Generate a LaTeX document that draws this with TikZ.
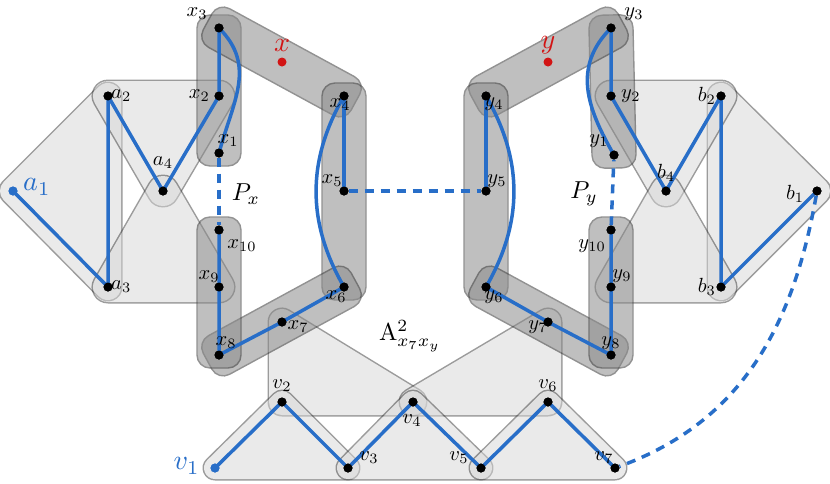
\documentclass[tikz,border=0pt]{standalone}
\usepackage{graphicx}
\usetikzlibrary{calc}
\definecolor{hb}{gray}{0.22}
\definecolor{dk}{gray}{0.54}
\definecolor{lt}{gray}{0.84}
\definecolor{eb}{RGB}{40,110,200}
\definecolor{rd}{RGB}{210,20,20}
\newcommand\band[2]{%
 \begin{scope}[transparency group,opacity=0.55]
 \draw[hb, fill=dk, line width=1.4pt] let \p1=($(#2)-(#1)$), \n1={atan2(\y1,\x1)}, \n2={veclen(\x1,\y1)} in [shift={(#1)}, rotate=\n1, rounded corners=13pt] (-13pt,-22pt) -- (\n2+13pt,-22pt) -- (\n2+13pt,22pt) -- (-13pt,22pt) -- cycle;
 \end{scope}}
\newcommand\tri[4]{%
 \begin{scope}[transparency group,opacity=0.5]
 \draw[hb, fill=hb, line width=#4+3pt, line join=round] (#1) -- (#2) -- (#3) -- cycle;
 \draw[lt, fill=lt, line width=#4, line join=round] (#1) -- (#2) -- (#3) -- cycle;
 \end{scope}}
\newcommand\sm[1]{\scalebox{2.05}{$#1$}}
\newcommand\bg[1]{\scalebox{2.8}{$#1$}}
\newcommand\md[1]{\scalebox{2.45}{$#1$}}
\tikzset{dot/.style={circle,fill=black,inner sep=0pt,minimum size=9pt},
 bdot/.style={dot,fill=eb},
 rdot/.style={dot,fill=rd},
 lb/.style={inner sep=0pt},
 blb/.style={text=eb,inner sep=0pt},
 rlb/.style={text=rd,inner sep=0pt},
 ed/.style={eb,line width=3.5pt},
 edd/.style={ed,dash pattern=on 9pt off 7pt}}
\begin{document}
\begin{tikzpicture}[x=1pt,y=-1pt]
\useasboundingbox (0,0) rectangle (830,483);
\foreach \n/\p in {a1/{13,191},a2/{108,96},a3/{108,287},a4/{163,191},
 x3/{219,28},x2/{219,96},x1/{219,153},x10/{219,230},x9/{219,287},x8/{219,355},x7/{282,322},x6/{344,287},x5/{344,191},x4/{344,96},xx/{282,62},
 y3/{611,28},y2/{611,96},y1/{614,155},y10/{611,230},y9/{611,287},y8/{611,355},y7/{548,322},y6/{486,287},y5/{486,191},y4/{486,96},yy/{548,62},
 b2/{721,96},b4/{666,191},b3/{721,287},b1/{817,191},
 v1/{215,468},v2/{282,402},v3/{348,468},v4/{413,402},v5/{481,468},v6/{548,402},v7/{615,468}}
 {\coordinate (\n) at (\p);}
% light hyperedges
\tri{a1}{a2}{a3}{26pt}
\tri{a2}{x2}{a4}{30pt}
\tri{a3}{x9}{a4}{30pt}
\tri{b1}{b2}{b3}{26pt}
\tri{y2}{b2}{b4}{30pt}
\tri{y9}{b3}{b4}{30pt}
\tri{x7}{v2}{v4}{26pt}
\tri{y7}{v6}{v4}{26pt}
\tri{v1}{v2}{v3}{22pt}
\tri{v3}{v4}{v5}{22pt}
\tri{v5}{v6}{v7}{22pt}
% dark hyperedges
\band{x3}{x1}\band{x3}{x4}\band{x4}{x6}\band{x6}{x8}\band{x10}{x8}
\band{y3}{y1}\band{y3}{y4}\band{y4}{y6}\band{y6}{y8}\band{y10}{y8}
% nodes
\foreach \n in {a2,a3,a4,x1,x2,x3,x4,x5,x6,x7,x8,x9,x10,y1,y2,y3,y4,y5,y6,y7,y8,y9,y10,b1,b2,b3,b4,v2,v3,v4,v5,v6,v7}
 {\node[dot] (n\n) at (\n) {};}
\node[bdot] (na1) at (a1) {};
\node[bdot] (nv1) at (v1) {};
\node[rdot] (nx) at (xx) {};
\node[rdot] (ny) at (yy) {};
% edges
\draw[ed,line join=round] (na1.center) -- (na3.center) -- (na2.center) -- (na4.center) -- (nx2.center) -- (nx3.center);
\draw[ed] (nx3.center) to[out=-45,in=75,looseness=1.1] (nx1.center);
\draw[edd] (nx1) -- (nx10);
\draw[ed,line join=round] (nx10.center) -- (nx9.center) -- (nx8.center) -- (nx7.center) -- (nx6.center);
\draw[ed] (nx6.center) to[out=120,in=-120] (nx4.center);
\draw[ed] (nx4.center) -- (nx5.center);
\draw[edd] (nx5) -- (ny5);
\draw[ed] (ny5.center) -- (ny4.center);
\draw[ed] (ny4.center) to[out=-60,in=60] (ny6.center);
\draw[ed,line join=round] (ny6.center) -- (ny7.center) -- (ny8.center) -- (ny9.center) -- (ny10.center);
\draw[edd] (ny10) -- (ny1);
\draw[ed] (ny1.center) to[out=120,in=-135,looseness=1.1] (ny3.center);
\draw[ed,line join=round] (ny3.center) -- (ny2.center) -- (nb4.center) -- (nb2.center) -- (nb3.center) -- (nb1.center);
\draw[edd] (nb1) to[out=-100,in=20] (nv7);
\draw[ed,line join=round] (nv1.center) -- (nv2.center) -- (nv3.center) -- (nv4.center) -- (nv5.center) -- (nv6.center) -- (nv7.center);
\foreach \n in {a2,a3,a4,x1,x2,x3,x4,x5,x6,x7,x8,x9,x10,y1,y2,y3,y4,y5,y6,y7,y8,y9,y10,b1,b2,b3,b4,v2,v3,v4,v5,v6,v7}
 {\node[dot] at (\n) {};}
\node[bdot] at (a1) {};\node[bdot] at (v1) {};
% labels
\node[blb,anchor=west] (la1) at (23,187) {\bg{a_1}};
\node[lb,anchor=west] (la2) at (111,96) {\sm{a_2}};
\node[lb,anchor=west] (la3) at (111,287) {\sm{a_3}};
\node[lb] (la4) at (163,163) {\sm{a_4}};
\node[lb] (lx3) at (197,14) {\sm{x_3}};
\node[lb,anchor=east] (lx2) at (210,96) {\sm{x_2}};
\node[lb] (lx1) at (228,141) {\sm{x_1}};
\node[lb] (lx10) at (242,246) {\sm{x_{10}}};
\node[lb] (lx9) at (209,277) {\sm{x_9}};
\node[lb] (lx8) at (226,343) {\sm{x_8}};
\node[lb] (lx7) at (298,327) {\sm{x_7}};
\node[lb] (lx6) at (336,297) {\sm{x_6}};
\node[lb] (lx5) at (332,181) {\sm{x_5}};
\node[lb] (lx4) at (340,105) {\sm{x_4}};
\node[rlb] (lx) at (282,45) {\bg{x}};
\node[lb] (lpx) at (246,194) {\md{P_x}};
\node[lb] (ly3) at (634,14) {\sm{y_3}};
\node[lb,anchor=west] (ly2) at (621,96) {\sm{y_2}};
\node[lb] (ly1) at (599,141) {\sm{y_1}};
\node[lb] (ly10) at (592,246) {\sm{y_{10}}};
\node[lb] (ly9) at (622,276) {\sm{y_9}};
\node[lb] (ly8) at (611,343) {\sm{y_8}};
\node[lb] (ly7) at (538,327) {\sm{y_7}};
\node[lb] (ly6) at (494,297) {\sm{y_6}};
\node[lb] (ly5) at (497,181) {\sm{y_5}};
\node[lb] (ly4) at (494,104) {\sm{y_4}};
\node[rlb] (ly) at (548,45) {\bg{y}};
\node[lb] (lpy) at (584,194) {\md{P_y}};
\node[lb,anchor=east] (lb2) at (716,96) {\sm{b_2}};
\node[lb] (lb4) at (666,173) {\sm{b_4}};
\node[lb,anchor=east] (lb3) at (716,287) {\sm{b_3}};
\node[lb] (lb1) at (795,194) {\sm{b_1}};
\node[lb] (lv2) at (282,386) {\sm{v_2}};
\node[lb] (lv3) at (369,458) {\sm{v_3}};
\node[lb] (lv4) at (412,421) {\sm{v_4}};
\node[lb] (lv5) at (459,458) {\sm{v_5}};
\node[lb] (lv6) at (548,386) {\sm{v_6}};
\node[lb] (lv7) at (604,458) {\sm{v_7}};
\node[blb,anchor=east] (lv1) at (200,466) {\bg{v_1}};
\node[lb] (lA) at (410,336) {\md{\mathrm{A}^2_{x_7x_y}}};
\end{tikzpicture}
\end{document}
